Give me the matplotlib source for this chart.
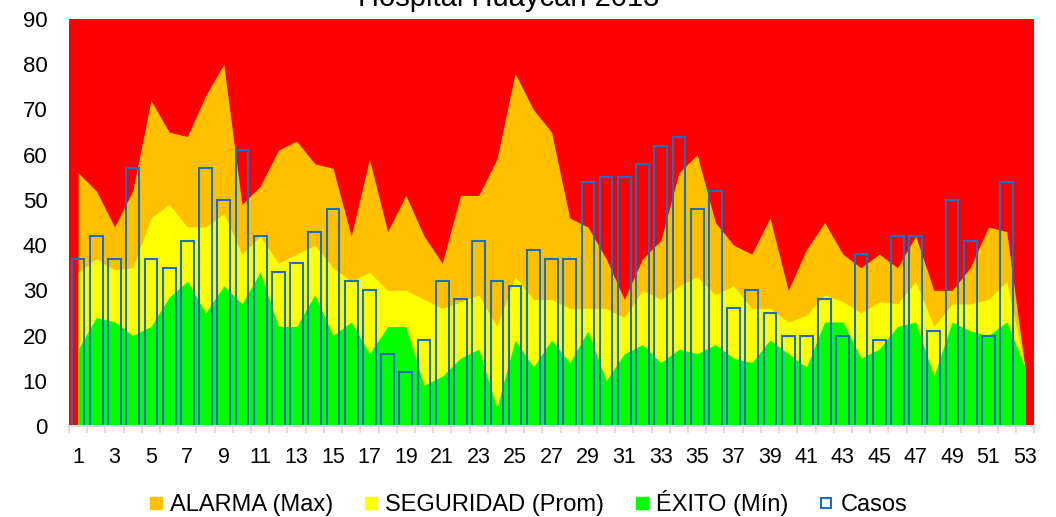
import numpy as np
import matplotlib
matplotlib.use("Agg")
import matplotlib.pyplot as plt
from matplotlib.lines import Line2D
from matplotlib.ticker import FixedLocator

plt.rcParams['font.family'] = ['Liberation Sans', 'DejaVu Sans']

title = "Hospital Huaycán 2013"
weeks = list(range(1, 54))
alarma = [56, 52, 44, 52, 72, 65, 64, 73, 80, 49,
          53, 61, 63, 58, 57, 42, 59, 43, 51, 42,
          36, 51, 51, 59, 78, 70, 65, 46, 44, 37,
          28, 37, 41, 56, 60, 45, 40, 38, 46, 30,
          39, 45, 38, 35, 38, 35, 42, 30, 30, 35,
          44, 43, 13]
seguridad = [34, 37, 34.5, 35, 46, 49, 44, 44, 47, 38,
             42, 36, 38, 40, 35, 32, 34, 30, 30, 28,
             26, 27.5, 29, 22, 33, 28, 28, 26, 26, 26,
             24, 30, 28, 31, 33, 29, 31, 26, 26, 23,
             24.5, 29, 27.5, 25, 27.5, 27, 32, 22, 27, 27,
             28, 32, 13]
exito = [17, 24, 23, 20, 22, 28.5, 32, 25, 31, 27,
         34, 22, 22, 29, 20, 23, 16, 22, 22, 9,
         11, 15, 17, 4, 19, 13, 19, 14, 21, 10,
         16, 18, 14, 17, 16, 18, 15, 14, 19, 16,
         13, 23, 23, 15, 17, 22, 23, 11, 23, 21,
         20, 23, 13]
casos = [37, 42, 37, 57, 37, 35, 41, 57, 50, 61,
         42, 34, 36, 43, 48, 32, 30, 16, 12, 19,
         32, 28, 41, 32, 31, 39, 37, 37, 54, 55,
         55, 58, 62, 64, 48, 52, 26, 30, 25, 20,
         20, 28, 20, 38, 19, 42, 42, 21, 50, 41,
         20, 54, None]
yticks = list(range(0, 91, 10))
xtick_labels = [str(w) for w in weeks if w % 2 == 1]

c_red = '#FF0000'
c_orange = '#FFC000'
c_yellow = '#FFFF00'
c_green = '#00FF00'
c_blue = '#1F6EBE'

W, H = 1056, 517
fig = plt.figure(figsize=(W / 100, H / 100), dpi=100)
ax = fig.add_axes([69 / W, 1 - 426 / H, (1034 - 69) / W, (426 - 19) / H])
ax.set_facecolor(c_red)

x = np.array(weeks, dtype=float)
ax.fill_between(x, 0, alarma, color=c_orange, lw=0, zorder=1)
ax.fill_between(x, 0, seguridad, color=c_yellow, lw=0, zorder=2)
ax.fill_between(x, 0, exito, color=c_green, lw=0, zorder=3)
cas = np.array([np.nan if v is None else v for v in casos], dtype=float)
ax.bar(x, cas, width=0.7, facecolor='none', edgecolor=c_blue, linewidth=1.5, zorder=4)

ax.set_xlim(0.5, 53.5)
ax.set_ylim(0, 90)
ax.set_yticks(yticks)
ax.set_xticks([w for w in weeks if w % 2 == 1])
ax.set_xticklabels(xtick_labels)
ax.xaxis.set_minor_locator(FixedLocator(np.arange(0.5, 54, 1)))
ax.tick_params(axis='x', which='major', length=0, pad=15, labelsize=15.5)
ax.tick_params(axis='x', which='minor', length=5, width=1.2, color='#D9D9D9', direction='out')
ax.tick_params(axis='y', which='major', length=0, pad=15.5, labelsize=16)
for s in ['top', 'right', 'left']:
    ax.spines[s].set_visible(False)
ax.spines['bottom'].set_color('#D9D9D9')
ax.spines['bottom'].set_linewidth(1.5)
ax.spines['bottom'].set_zorder(5)

fig.text(509 / W, 1 - 6 / H, title, ha='center', va='baseline', fontsize=21)

handles = [
    Line2D([], [], marker='s', ls='none', markersize=8.4, markerfacecolor=c_orange, markeredgecolor=c_orange),
    Line2D([], [], marker='s', ls='none', markersize=8.4, markerfacecolor=c_yellow, markeredgecolor=c_yellow),
    Line2D([], [], marker='s', ls='none', markersize=8.4, markerfacecolor=c_green, markeredgecolor=c_green),
    Line2D([], [], marker='s', ls='none', markersize=7.6, markerfacecolor='none', markeredgecolor=c_blue, markeredgewidth=1.5),
]
labels = ['ALARMA (Max)', 'SEGURIDAD (Prom)', 'ÉXITO (Mín)', 'Casos']
fig.legend(handles, labels, loc='center', bbox_to_anchor=(528 / W, 1 - 503 / H), ncol=4,
           frameon=False, fontsize=17, handlelength=0.6, handletextpad=0.3,
           columnspacing=1.3, borderpad=0, borderaxespad=0)

fig.savefig('out.png', dpi=100)
